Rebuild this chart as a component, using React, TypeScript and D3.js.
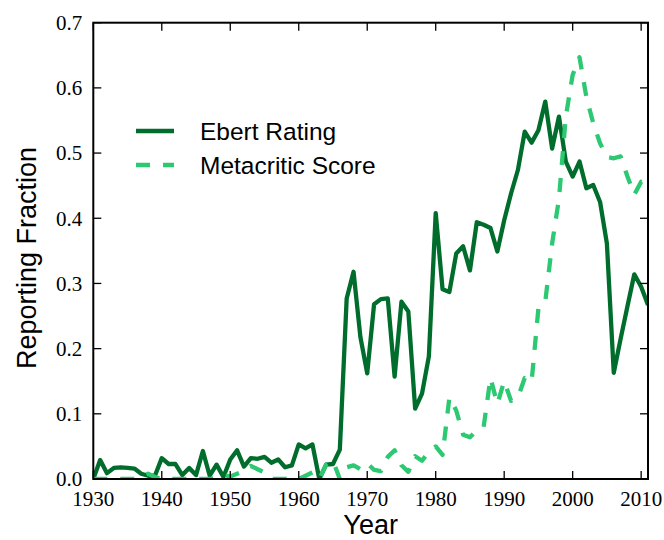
import * as d3 from "d3";

// reporting fraction per year, 1930..2011
const years = d3.range(1930, 2012);

const ebert = [
  0.0, 0.029, 0.009, 0.017, 0.018, 0.017, 0.016, 0.008, 0.005, 0.005,
  0.032, 0.023, 0.023, 0.006, 0.017, 0.006, 0.043, 0.005, 0.022, 0.003,
  0.03, 0.044, 0.019, 0.032, 0.031, 0.034, 0.025, 0.03, 0.018, 0.021,
  0.053, 0.047, 0.053, 0.0, 0.022, 0.023, 0.045, 0.277, 0.318, 0.218,
  0.162, 0.268, 0.276, 0.277, 0.157, 0.272, 0.257, 0.108, 0.131, 0.188,
  0.408, 0.291, 0.287, 0.346, 0.357, 0.32, 0.394, 0.39, 0.385, 0.349,
  0.397, 0.438, 0.474, 0.533, 0.516, 0.535, 0.579, 0.507, 0.556, 0.487,
  0.464, 0.487, 0.446, 0.451, 0.425, 0.361, 0.163, 0.215, 0.265, 0.314,
  0.295, 0.267,
];

const metacritic = [
  0, 0, 0, 0, 0, 0, 0, 0.003, 0.008, 0.003,
  0, 0, 0, 0, 0, 0, 0, 0, 0.002, 0.006,
  0.004, 0.008, 0.012, 0.02, 0.015, 0.01, 0, 0, 0, 0,
  0, 0.005, 0.01, 0, 0.022, 0.028, 0, 0.018, 0.021, 0.015,
  0.024, 0.014, 0.012, 0.034, 0.044, 0.021, 0.011, 0.035, 0.028, 0.042,
  0.05, 0.037, 0.125, 0.105, 0.068, 0.064, 0.075, 0.08, 0.155, 0.115,
  0.15, 0.12, 0.125, 0.155, 0.149, 0.262, 0.272, 0.361, 0.43, 0.556,
  0.62, 0.647, 0.586, 0.546, 0.515, 0.494, 0.492, 0.495, 0.464, 0.436,
  0.456, 0.453,
];

const xTicks = [1930, 1940, 1950, 1960, 1970, 1980, 1990, 2000, 2010];
const yTicks = [0, 0.1, 0.2, 0.3, 0.4, 0.5, 0.6, 0.7];

const series = [
  { name: "Ebert Rating", values: ebert, color: "#006d2c", dash: null },
  { name: "Metacritic Score", values: metacritic, color: "#2cc872", dash: "14,13" },
];

const W = 664;
const H = 540;
const m = { left: 93.3, right: 648, top: 22.7, bottom: 479 };
const serif = "'Liberation Serif', 'DejaVu Serif', serif";
const sans = "'Liberation Sans', Arial, sans-serif";

export default function App() {
  const x = d3.scaleLinear().domain([1930, 2011]).range([m.left, m.right]);
  const y = d3.scaleLinear().domain([0, 0.7]).range([m.bottom, m.top]);

  const line = d3
    .line<number>()
    .x((_, i) => x(years[i]))
    .y((d) => y(d));

  const tickLen = 8;

  return (
    <svg
      width={W}
      height={H}
      style={{ position: "absolute", left: 0, top: 0, background: "#fff" }}
    >
      <defs>
        <clipPath id="plot">
          <rect x={m.left} y={m.top} width={m.right - m.left} height={m.bottom - m.top} />
        </clipPath>
      </defs>

      {/* data lines */}
      <g clipPath="url(#plot)">
        {series.map((s) => (
          <path
            key={s.name}
            d={line(s.values) || ""}
            fill="none"
            stroke={s.color}
            strokeWidth={4.3}
            strokeDasharray={s.dash || undefined}
            strokeLinejoin="round"
          />
        ))}
      </g>

      {/* ticks, inward on all four sides */}
      <g stroke="#000" strokeWidth={1.3}>
        {xTicks.map((t) => (
          <g key={t}>
            <line x1={x(t)} x2={x(t)} y1={m.bottom} y2={m.bottom - tickLen} />
            <line x1={x(t)} x2={x(t)} y1={m.top} y2={m.top + tickLen} />
          </g>
        ))}
        {yTicks.map((t) => (
          <g key={t}>
            <line x1={m.left} x2={m.left + tickLen} y1={y(t)} y2={y(t)} />
            <line x1={m.right} x2={m.right - tickLen} y1={y(t)} y2={y(t)} />
          </g>
        ))}
      </g>

      <rect
        x={m.left}
        y={m.top}
        width={m.right - m.left}
        height={m.bottom - m.top}
        fill="none"
        stroke="#000"
        strokeWidth={2}
      />

      {/* tick labels */}
      <g fontFamily={serif} fontSize={21} fill="#000">
        {xTicks.map((t) => (
          <text key={t} x={x(t)} y={m.bottom + 27} textAnchor="middle">
            {t}
          </text>
        ))}
        {yTicks.map((t) => (
          <text key={t} x={m.left - 11} y={y(t)} dy="0.35em" textAnchor="end">
            {d3.format(".1f")(t)}
          </text>
        ))}
      </g>

      {/* axis titles */}
      <text
        x={(m.left + m.right) / 2}
        y={534}
        textAnchor="middle"
        fontFamily={sans}
        fontSize={27}
      >
        Year
      </text>
      <text
        transform={`translate(36,258) rotate(-90)`}
        textAnchor="middle"
        fontFamily={sans}
        fontSize={27}
      >
        Reporting Fraction
      </text>

      {/* legend */}
      <g fontFamily={sans} fontSize={24.5}>
        {series.map((s, i) => {
          const ly = 131 + i * 34;
          return (
            <g key={s.name}>
              <line
                x1={136}
                x2={174}
                y1={ly}
                y2={ly}
                stroke={s.color}
                strokeWidth={4.3}
                strokeDasharray={s.dash || undefined}
              />
              <text x={200} y={ly} dy="0.35em">
                {s.name}
              </text>
            </g>
          );
        })}
      </g>
    </svg>
  );
}
